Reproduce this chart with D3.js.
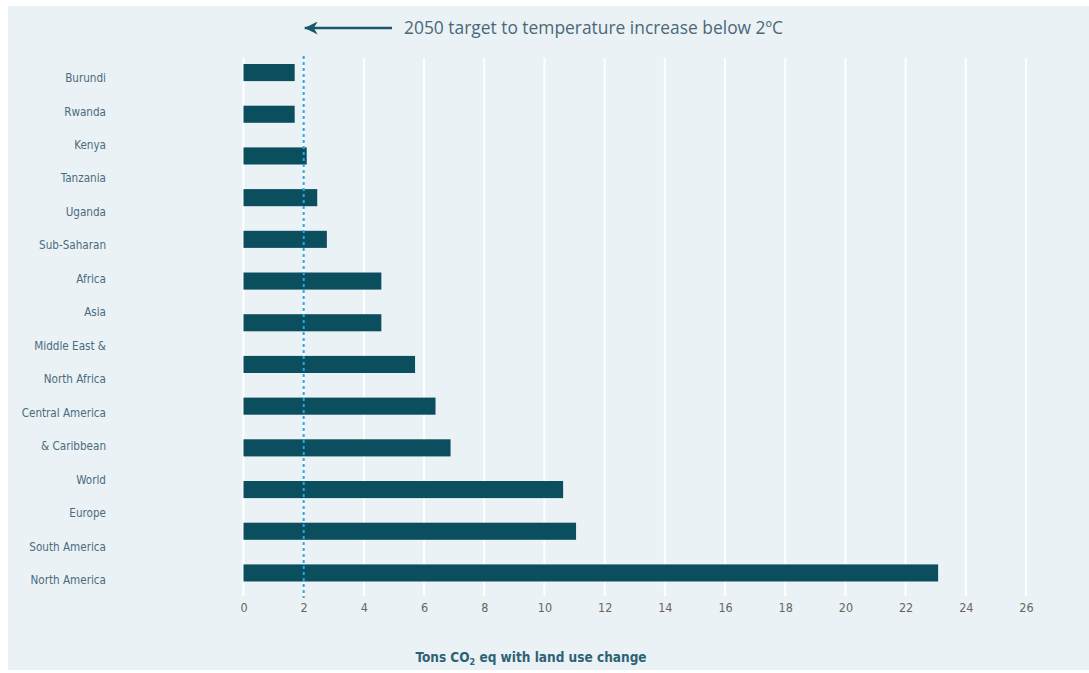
<!DOCTYPE html>
<html>
<head>
	<meta charset="utf-8">
	<title>Tons CO2 eq with land use change</title>
	<script type="text/javascript" src="https://cdn.jsdelivr.net/npm/d3@7/dist/d3.min.js"></script>
	<style>
		body { margin: 0; background: #fff; }
		svg text { font-family: "Liberation Sans Narrow", "DejaVu Sans Condensed", "Open Sans", sans-serif; }
	</style>
</head>
<body>
	<div id="chart"></div>
	<script type="text/javascript">
		// bars, top to bottom
		var categories = ["Burundi", "Rwanda", "Kenya", "Tanzania", "Uganda", "Sub-Saharan Africa", "Asia",
			"Middle East & North Africa", "Central America & Caribbean", "World", "Europe", "South America", "North America"];
		var values = [1.7, 1.7, 2.1, 2.45, 2.77, 4.58, 4.58, 5.7, 6.38, 6.88, 10.62, 11.05, 23.08];
		// label lines as printed down the left side
		var labelLines = ["Burundi", "Rwanda", "Kenya", "Tanzania", "Uganda", "Sub-Saharan", "Africa", "Asia",
			"Middle East &", "North Africa", "Central America", "& Caribbean", "World", "Europe", "South America", "North America"];
		var xTicks = [0, 2, 4, 6, 8, 10, 12, 14, 16, 18, 20, 22, 24, 26];
		var target = 2;
		var targetText = "2050 target to temperature increase below 2\u00baC";

		var width = 1089, height = 673;
		var svg = d3.select("#chart").append("svg")
			.attr("width", width)
			.attr("height", height);

		svg.append("rect")
			.attr("x", 8).attr("y", 6)
			.attr("width", 1081).attr("height", 664)
			.attr("fill", "#eaf2f5");

		var x = d3.scaleLinear().domain([0, 26]).range([243.5, 1026]);
		var y = d3.scaleBand().domain(categories).range([51.7, 593.8])
			.paddingInner(0.59).paddingOuter(0.295);
		var yLab = d3.scalePoint().domain(d3.range(labelLines.length)).range([78, 580]);

		// grid
		svg.append("g").selectAll("line")
			.data(xTicks)
			.enter().append("line")
			.attr("x1", function(d) { return x(d); })
			.attr("x2", function(d) { return x(d); })
			.attr("y1", 58).attr("y2", 596)
			.attr("stroke", "#ffffff")
			.attr("stroke-width", 2);

		// bars
		svg.append("g").selectAll("rect")
			.data(values)
			.enter().append("rect")
			.attr("x", x(0))
			.attr("y", function(d, i) { return y(categories[i]); })
			.attr("width", function(d) { return x(d) - x(0); })
			.attr("height", y.bandwidth())
			.attr("fill", "#0b4f5f");

		// target line
		svg.append("line")
			.attr("x1", x(target)).attr("x2", x(target))
			.attr("y1", 56).attr("y2", 598)
			.attr("stroke", "#2aa6df")
			.attr("stroke-width", 2)
			.attr("stroke-dasharray", "3,3");

		// left labels
		svg.append("g").selectAll("text")
			.data(labelLines)
			.enter().append("text")
			.attr("x", 106)
			.attr("y", function(d, i) { return yLab(i); })
			.attr("dy", "0.35em")
			.attr("text-anchor", "end")
			.attr("font-size", 11.6)
			.attr("fill", "#4c6b7e")
			.text(function(d) { return d; });

		// x axis labels
		var xAxis = d3.axisBottom(x).tickValues(xTicks).tickSize(0).tickPadding(0);
		var gx = svg.append("g")
			.attr("transform", "translate(0,603)")
			.call(xAxis);
		gx.select(".domain").remove();
		gx.selectAll("text")
			.attr("font-size", 12.5)
			.attr("fill", "#6a6560")
			.style("font-family", "\"Liberation Sans Narrow\", \"DejaVu Sans Condensed\", sans-serif");

		// axis title
		var title = svg.append("text")
			.attr("x", 531).attr("y", 662)
			.attr("text-anchor", "middle")
			.attr("font-size", 13.5)
			.attr("font-weight", "bold")
			.attr("fill", "#2e6375");
		title.append("tspan").text("Tons CO");
		title.append("tspan").attr("font-size", 9).attr("dy", 3).text("2");
		title.append("tspan").attr("dy", -3).text(" eq with land use change");

		// annotation arrow
		svg.append("defs").append("marker")
			.attr("id", "head")
			.attr("viewBox", "0 0 10 10")
			.attr("refX", 10).attr("refY", 5)
			.attr("markerUnits", "userSpaceOnUse")
			.attr("markerWidth", 13).attr("markerHeight", 13)
			.attr("orient", "auto")
			.append("path")
			.attr("d", "M10,5 L0,0 L3,5 L0,10 Z")
			.attr("fill", "#1b5868");
		svg.append("line")
			.attr("x1", 392).attr("x2", x(target) + 1)
			.attr("y1", 28).attr("y2", 28)
			.attr("stroke", "#1b5868")
			.attr("stroke-width", 2.5)
			.attr("marker-end", "url(#head)");
		svg.append("text")
			.attr("x", 404).attr("y", 34)
			.attr("font-size", 17.4)
			.attr("fill", "#4b6878")
			.style("font-family", "\"Open Sans\", \"DejaVu Sans\", sans-serif")
			.text(targetText);
	</script>
</body>
</html>
